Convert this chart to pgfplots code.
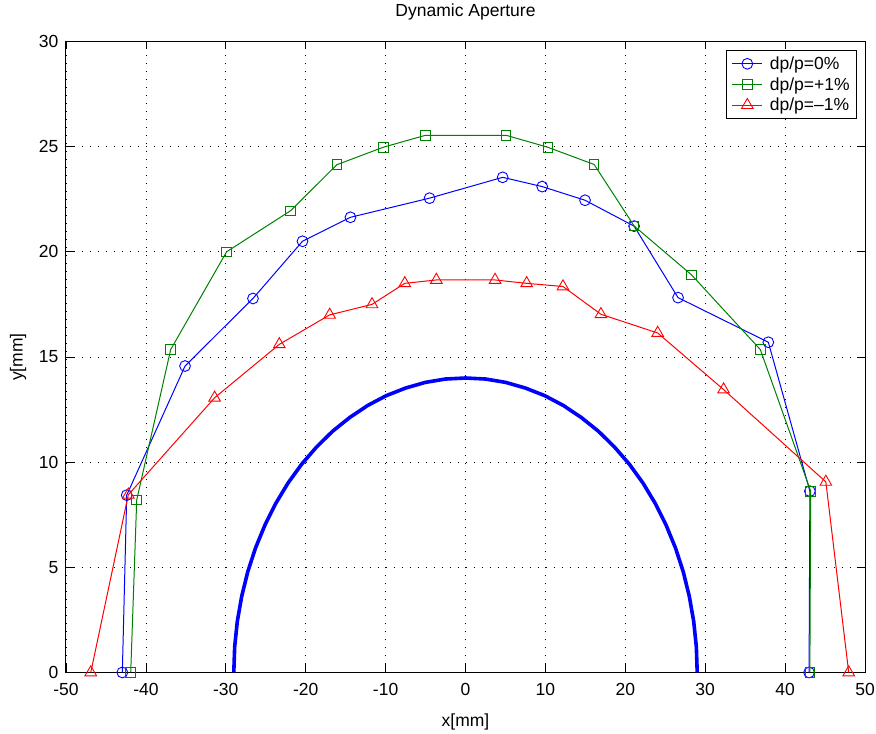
\documentclass[border=0pt]{standalone}
\usepackage{fontspec}
\setmainfont{Liberation Sans}
\usepackage{pgfplots}
\pgfplotsset{compat=1.18}
\definecolor{mgreen}{rgb}{0,0.5,0}
\newcommand{\bigf}{\fontsize{17.5}{20.5}\selectfont}
\begin{document}
\begin{tikzpicture}
\begin{axis}[
  scale only axis,
  width=799pt, height=631pt,
  xmin=-50, xmax=50, ymin=0, ymax=30,
  xtick={-50,-40,...,50}, ytick={0,5,...,30},
  /pgf/number format/assume math mode=true,
  tick align=inside,
  major tick length=8pt,
  tick style={black, line width=0.8pt},
  axis line style={black, line width=1pt},
  grid=major,
  major grid style={black, line width=0.8pt, dash pattern=on 1pt off 7pt},
  clip=false,
  title={Dynamic Aperture},
  title style={font=\bigf, at={(axis description cs:0.5,1.038)}, anchor=center},
  xlabel={x[mm]},
  xlabel style={font=\bigf, at={(axis description cs:0.5,-0.078)}, anchor=center},
  ylabel={y[mm]},
  ylabel style={font=\bigf, at={(axis description cs:-0.060,0.5)}, anchor=center},
  xticklabel style={font=\bigf, inner sep=1pt, yshift=-9.5pt},
  yticklabel style={font=\bigf, inner sep=1pt, xshift=-6.5pt},
  legend style={font=\bigf, at={(rel axis cs:0.990,0.986)}, anchor=north east, draw=black, line width=0.8pt, fill=white, inner xsep=5pt, inner ysep=4pt, row sep=2.5pt, column sep=5pt},
  legend image code/.code={\draw[mark repeat=2,mark phase=2] plot coordinates {(0pt,0pt) (15pt,0pt) (30pt,0pt)};},
  legend cell align=left,
]
\coordinate (SW) at (rel axis cs:0,0);
\coordinate (NE) at (rel axis cs:1,1);
\addplot[blue, line width=1pt, mark=o, mark size=5.4pt, mark options={solid, line width=0.9pt}] coordinates {
(-42.95,0) (-42.4,8.43) (-35.1,14.57) (-26.6,17.78) (-20.4,20.5) (-14.4,21.64)
(-4.5,22.55) (4.65,23.54) (9.6,23.1) (14.96,22.45) (21.1,21.22) (26.6,17.82)
(37.9,15.7) (43.1,8.62) (43.0,0)
};
\addlegendentry{dp/p=0\%}
\addplot[mgreen, line width=1pt, mark=square, mark size=4.8pt, mark options={solid, line width=0.9pt}] coordinates {
(-41.9,0) (-41.15,8.2) (-36.9,15.35) (-29.9,20.0) (-21.9,21.95) (-16.1,24.14)
(-10.3,24.97) (-5.0,25.54) (5.07,25.54) (10.3,24.97) (16.1,24.15) (21.1,21.23)
(28.3,18.9) (36.9,15.35) (43.2,8.62) (43.1,0)
};
\addlegendentry{dp/p=+1\%}
\addplot[red, line width=1pt, mark=triangle, mark size=6.7pt, mark options={solid, line width=0.9pt}] coordinates {
(-46.9,0) (-42.2,8.45) (-31.4,13.06) (-23.3,15.6) (-17.0,17.0) (-11.7,17.5)
(-7.6,18.5) (-3.65,18.66) (3.7,18.66) (7.65,18.5) (12.2,18.35) (16.95,17.03)
(24.05,16.14) (32.3,13.45) (45.1,9.06) (47.96,0)
};
\addlegendentry{dp/p=--1\%}
\addplot[blue, line width=3.6pt, forget plot] coordinates {
(-29,0) (-28.89,1.22) (-28.56,2.43) (-28.01,3.62) (-27.25,4.79) (-26.28,5.92)
(-25.11,7.00) (-23.76,8.03) (-22.22,9.00) (-20.51,9.90) (-18.64,10.72) (-16.63,11.47)
(-14.50,12.12) (-12.26,12.69) (-9.92,13.16) (-7.51,13.52) (-5.04,13.79) (-2.53,13.95)
(0,14)
(2.53,13.95) (5.04,13.79) (7.51,13.52) (9.92,13.16) (12.26,12.69) (14.50,12.12)
(16.63,11.47) (18.64,10.72) (20.51,9.90) (22.22,9.00) (23.76,8.03) (25.11,7.00)
(26.28,5.92) (27.25,4.79) (28.01,3.62) (28.56,2.43) (28.89,1.22) (29,0)
};
\end{axis}
\path ([xshift=-66pt,yshift=-61pt]SW) rectangle ([xshift=11pt,yshift=38pt]NE);
\end{tikzpicture}
\end{document}
